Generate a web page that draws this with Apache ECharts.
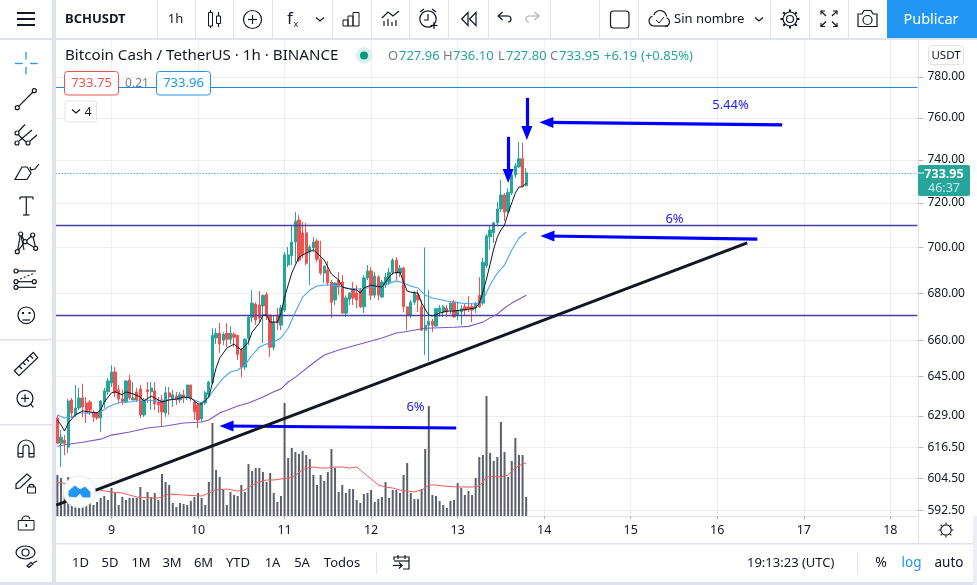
<!DOCTYPE html>
<html><head><meta charset="utf-8">
<style>html,body{margin:0;padding:0;background:#fff}#c{width:977px;height:585px}</style>
<script src="https://cdn.jsdelivr.net/npm/echarts@6/dist/echarts.min.js"></script>
</head><body><div id="c"></div>
<script>
// ---------- data ----------
const opens=[628.2,618.2,619.4,616.7,635.4,629.4,632.2,636.2,634.2,634.6,
630.2,630.2,628.2,634.6,638.7,642.3,646.8,639.5,635.8,634.6,
643.5,635.4,638.7,639.9,629.4,639.5,638.7,639.1,634.6,635.4,
630.2,638.3,635.8,637,635.4,637.5,636.6,641.5,634.6,633.4,
627.8,634.2,637.5,642.3,660.9,662.9,660,662.9,660.4,662.5,
662,655.9,648.8,660.8,669.7,675.3,674.9,674.5,679.4,670.6,
657,670.6,666.3,672.7,692.3,696.3,702.4,712.3,706.5,706.5,
698,699.8,702.9,694.8,688.7,690,684.8,677,685.7,684.8,
671.4,677.4,681.3,680,681.3,674.1,686.6,689.6,679.1,687,
678.3,683.5,684.8,689.1,694.4,688.7,690.9,674.1,670.6,676.1,
679.1,674.1,664.2,666.3,668,665.9,671.9,671.9,673.6,672.7,
676.1,670.6,671.9,674.1,674.1,674.1,673.7,679,675.7,691.8,
704.7,706.5,711,717.3,723.7,716.3,724.6,732.9,736.7,740.5,727.96];
const closes=[618.2,620.6,618.2,635,630.2,632.2,636.2,632.6,630.2,631.4,
628.6,628.2,635,639.1,643.1,646.8,638.3,635.8,634.6,643.1,
636.2,636.2,635.4,629.4,635.4,638.7,640.3,633.8,633.4,630.6,
638.3,636.6,637.5,635.4,637.5,636.2,641.5,636.2,630.6,627.4,
634.2,638.3,642.7,662,662.9,658.4,662.5,660.4,662.9,661.2,
654,648.8,660.4,669.7,675.7,668.5,669.4,679,670.6,657,
667.6,667.2,673.6,696.7,696.7,702.4,711.8,694.4,696.7,693,
700.2,702.4,694.8,688.7,691.8,684.4,676.1,684.4,682.6,671.4,
677.9,680,677.9,677,674.1,686.6,689.6,679.1,687.4,679.1,
684.8,687,689.1,694.4,688.7,690.9,674.1,670.6,676.1,680,
677,664.2,666.3,668,666.3,673.3,673.6,674.1,671.9,675.7,
669.8,672.7,673.3,672.7,673.3,672.7,675.7,674.1,693.5,705.1,
707.8,711,717.3,723.7,715.9,725,732.9,737.2,740.5,727.7,733.95];
const highs=[629.4,623.4,621.4,635.8,636.2,641.5,640.3,642,636.6,635.4,
631.4,630.6,635.4,640.3,644.3,649.6,648.8,641.5,639.5,643.5,
645.6,642.7,640.3,641.5,636.2,642.7,642.7,642.7,636.6,637.4,
640.7,640.7,639.5,638.7,638.7,639.5,641.5,641.5,635.4,634.2,
634.6,639.1,643.1,665,665,667.2,663.3,667.2,665.8,663.3,
662,656.7,660.8,670.6,681.3,676.1,680.9,679.4,680.4,670.6,
670.6,673.6,674.9,698,700.2,710,715.9,714.5,711.4,711,
701,704.6,703.8,702.9,691.8,694,685.7,684.8,689.1,687.8,
679.1,680.4,684.8,683.5,682.2,687.8,692.2,691.4,689.1,687.8,
685.7,688.7,690.9,695.3,695.7,692.2,691.4,674.1,677,680.9,
681.3,677,700,681.3,669,673.6,674.9,674.9,674.9,676.1,
677,676.1,674.9,675.3,678.7,675.7,676.1,687,695.3,706,
710,711.4,720.5,730.6,724.6,726.9,734.4,738.6,748.5,748,736.1];
const lows=[618.2,608.9,613.5,614.3,628.2,628.6,631.4,628.6,626.2,629.4,
626.6,627.4,622.6,632.2,637.5,640.7,636.6,634.2,633.4,634.2,
635.4,635.4,634.6,628.2,628.6,634.2,631.4,631.4,630.2,624.6,
628.6,629.4,632.6,633.4,634.2,634.2,635.4,635,627.4,624.2,
626.6,633.4,636.6,641.9,658.4,654.6,658,657.1,658.4,657.1,
651.7,644.7,647.6,657.9,667.6,666.4,667.6,658.8,668.5,653,
655.9,664.2,664.2,671.9,691.4,692.2,693,693.5,695.3,692.2,
683.5,698,693.5,687.8,684.4,683.1,669.4,674.9,679.1,671.4,
669.7,674.9,674.9,673.6,673.6,671.4,685.7,677,677.9,677,
677.9,682.2,683.5,687.8,685.7,687,671.9,664.2,669.4,674.9,
671.9,663.8,653.8,651.3,663.4,665.9,669.8,669.8,669.8,671,
669.4,668.5,666.4,670.2,671.9,667.6,671.4,673.7,674.9,690.9,
698.9,702,710,715.9,711.8,715.4,723.7,731.5,736.3,727.2,727.8];
const volumes=[41,38,26,39,29,26,26,11,18,13,11,14,18,20,16,28,23,11,19,16,
18,18,18,29,16,24,19,23,16,42,34,31,13,9,13,12,11,15,19,23,
18,11,34,93,46,39,26,11,24,21,20,31,24,52,45,48,48,44,34,43,
23,14,20,113,58,68,64,62,65,61,57,41,31,41,35,44,67,48,24,31,
23,27,27,16,13,22,23,26,14,17,19,34,18,26,26,23,41,53,23,17,
17,27,67,110,21,20,15,11,8,15,16,33,28,21,25,21,38,59,61,120,
63,55,59,94,64,39,55,78,61,61,19];
// moving averages: [hour index, value]
const maFast=[[0,627.4],[1,625.4],[2,623],[3,626.2],[5,629.4],[7,631],[9,630.6],[11,630.2],[12,631.4],[13,634.6],[15,638.3],[16,638.7],[18,637.5],[19,638.7],[21,637.9],[23,636.6],[24,635],[26,637],[28,635.4],[29,634.6],[31,635.4],[33,635.8],[35,636.6],[37,636.2],[39,633.8],[40,633.8],[42,636.6],[43,642.3],[44,648.4],[45,652.5],[47,656.7],[49,658.4],[50,657.1],[51,655.9],[53,659.2],[54,663.4],[56,667.2],[57,670.6],[58,670.6],[59,667.6],[61,667.6],[62,671.4],[63,678.3],[65,688.7],[66,692.2],[67,695.7],[69,697.5],[71,698.9],[72,697.5],[74,694.4],[76,688.3],[77,687],[78,685.7],[79,682.6],[81,681.8],[83,681.3],[84,680],[85,682.2],[87,683.5],[88,683.1],[90,682.6],[92,687],[93,688.7],[95,689.1],[96,684.8],[97,680.9],[98,680.4],[100,680],[101,675.7],[103,670.6],[104,670.2],[106,671.4],[108,672.3],[110,672.3],[112,672.7],[114,673.1],[116,673.6],[117,675.7],[118,680.4],[119,686.1],[120,692.6],[121,699.3],[122,704.6],[123,707.8],[124,710],[125,715.4],[126,720],[127,724.6],[128,727.4],[129,727.4],[130,729.2]];
const maMid=[[0,629.4],[2,628.2],[4,628.6],[6,630.2],[10,630.2],[12,630.6],[14,632.6],[16,633.8],[18,634.6],[20,634.6],[24,635.4],[28,635],[32,635.8],[36,636.6],[38,635.4],[40,634.2],[42,636.6],[44,640.7],[46,644.3],[48,646.8],[50,647.6],[52,649.6],[54,653.8],[56,657.1],[58,658.4],[60,659.2],[62,660.9],[64,665],[66,671.9],[68,678.3],[70,681.3],[72,683.1],[74,683.5],[76,683.5],[78,683.1],[80,682.2],[84,681.8],[86,682.2],[90,683.1],[94,685.3],[96,684.4],[98,683.1],[100,682.2],[102,679.1],[104,677.9],[108,676.6],[112,675.7],[116,675.3],[118,677],[120,683.5],[122,688.7],[124,692.2],[126,698.9],[128,704.2],[130,706.9]];
const maSlow=[[0,617],[3,617.8],[7,618.6],[12,619.8],[15,621.4],[20,622.6],[25,624.2],[30,625],[35,626.2],[40,626.6],[42,627.4],[45,630.2],[50,633],[53,634.2],[57,636.6],[60,638.7],[62,639.9],[64,642.7],[66,644.7],[71,650.5],[74,653.8],[78,655.9],[84,658.4],[90,660.9],[94,663],[96,663.4],[102,665],[110,665.4],[114,665.8],[116,666.7],[118,667.6],[120,669.4],[122,671],[124,673.6],[126,675.7],[128,677.4],[130,679.1]];
const volMA=[[0,34],[10,27],[15,24],[18,23],[22,19],[26,18],[28,18],[31,22],[35,21],[40,20],[42,23],[44,26],[47,27],[50,25],[52,26],[54,31],[56,34],[58,36],[60,36],[62,37],[64,38],[66,40],[67,44],[69,48],[71,49],[73,48],[75,48],[77,49],[79,49],[81,48],[83,49],[85,43],[87,37],[89,31],[91,29],[93,28],[95,26],[97,25],[99,24],[101,26],[103,31],[105,31],[107,30],[111,29],[115,29],[117,30],[118,34],[119,39],[121,40],[123,39],[125,41],[127,48],[129,52],[130,53]];
const priceTicks=[780,760,740,720,700,680,660,645,629,616.5,604.5,592.5];
const dayHours=[15,39,63,87,111,135,159,183,207,231];
const dayLabels=['9','10','11','12','13','14','15','16','17','18'];
const levels={order:775.1,upper:710,lower:670.3};
const lastPrice=733.95;
// hand-drawn annotations: [hour, price] pairs
const trendLine=[[-0.3,594.4],[191.3,702]];
const arrows=[
 [[201,756.6],[135.6,757.8]],
 [[194.1,703.7],[135.9,705.1]],
 [[110.6,624.2],[46.9,625]],
 [[130.2,769.7],[130.2,752.7]],
 [[125,750.9],[125,732.5]]
];
const hourCount=239, priceMin=590.3, priceMax=798.5, volumeMax=476;

// ---------- options ----------
const lg=Math.log, lgp=p=>[p[0],lg(p[1])];
const hours=Array.from({length:hourCount},(_,i)=>'h'+i);
const candleData=opens.map((o,i)=>[lg(o),lg(closes[i]),lg(lows[i]),lg(highs[i])]);
const UI='"Noto Sans",sans-serif', ink='#131722', edge='#e0e3eb', grid='#eceef2';
const z=100;
const L=(x1,y1,x2,y2,c=ink,w=1.2)=>({type:'line',z,silent:true,shape:{x1,y1,x2,y2},style:{stroke:c,lineWidth:w}});
const C=(cx,cy,r,c=ink,w=1.2,fill='none')=>({type:'circle',z,silent:true,shape:{cx,cy,r},style:{stroke:c,lineWidth:w,fill}});
const R=(x,y,width,height,fill='none',stroke='none',w=1,r=0)=>({type:'rect',z,silent:true,shape:{x,y,width,height,r},style:{fill,stroke,lineWidth:w}});
const T=(text,x,y,o={})=>({type:'text',z:z+1,silent:true,style:{text,x,y,fill:o.color||ink,font:(o.weight||'normal')+' '+(o.size||13)+'px '+UI,textAlign:o.align||'left',textVerticalAlign:'middle',verticalAlign:'middle'}});
const P=(points,c=ink,w=1.2)=>({type:'polyline',z,silent:true,shape:{points},style:{stroke:c,lineWidth:w,fill:'none'}});
const G=(points,fill='none',c=ink,w=1.2)=>({type:'polygon',z,silent:true,shape:{points},style:{stroke:c,lineWidth:w,fill}});
const A=(cx,cy,r,s,e,c=ink,w=1.2)=>({type:'arc',z,silent:true,shape:{cx,cy,r,startAngle:s,endAngle:e},style:{stroke:c,lineWidth:w,fill:'none'}});
const PI=Math.PI;
const sunTicks=(cx,cy,r1,r2,n,w)=>Array.from({length:n},(_,i)=>{const a=i*2*PI/n;return L(cx+r1*Math.cos(a),cy+r1*Math.sin(a),cx+r2*Math.cos(a),cy+r2*Math.sin(a),ink,w);});
const els=[
 // frame
 R(0,0,52,585,'#fff'),R(52,38,4,547,edge),R(0,38,977,2,edge),R(56,543,917,1.5,edge),R(0,582,977,3,edge),R(973,516,4,69,'#eceef3'),
 R(918,40,1,503,edge),
 // top bar separators
 ...[157,195,233,272,332,371,409,448,488,550,599,638,770,809,848].map(x=>R(x,0,1,38,edge)),
 R(52,0,4,38,edge),
 // hamburger
 L(17,13,35,13,ink,2),L(17,19,35,19,ink,2),L(17,25,35,25,ink,2),
 T('BCHUSDT',65,19,{size:13,weight:'bold'}),T('1h',175.5,19,{align:'center',size:13}),
 // candle icon
 L(210.5,10,210.5,28),R(208.5,12.5,4,13.5,'#fff',ink),L(218.5,12,218.5,27),R(216.5,16,4,7.5,'#fff',ink),
 C(252.5,19.5,9),L(248,19.5,257,19.5),L(252.5,15,252.5,24),
 T('f',290,19,{size:17,align:'center'}),T('x',296,24,{size:9,align:'center'}),P([[316,17.5],[320,21],[324,17.5]]),
 // bars icon
 R(343,20,5,6,'none',ink),R(348,16,5,10,'none',ink),R(353,12.5,6,13.5,'none',ink),
 // indicators icon
 P([[382,18],[388,12],[393,16],[399,11]]),L(384,21,384,26),L(388,19,388,26),L(392,22,392,26),L(396,20,396,26),
 // alarm
 C(428,19,8.2),P([[428,14],[428,20],[424,20]]),L(420,12,424,9),L(436,12,432,9),L(434,22,434,29),L(430.5,25.5,437.5,25.5),
 // replay
 G([[461.7,19],[468,12.5],[468,25.5]]),G([[469.5,19],[476,12.5],[476,25.5]]),
 // undo / redo
 P([[498,16],[508,16]]),P([[502.5,12],[498,16],[502.5,20]]),A(508,19,3,-PI/2,PI/2),P([[539,16],[529,16]],'#b2b5be'),P([[534.5,12],[539,16],[534.5,20]],'#b2b5be'),A(529,19,3,PI/2,-PI/2,'#b2b5be'),
 // square
 R(610.5,11,18.5,17,'none',ink,1.2,3),
 // cloud
 P([[654,26],[668,26]]),A(654,21,5,PI/2,-PI*0.6),A(660,17,6.5,-PI*0.9,-0.1),A(665,22,4.5,-PI*0.4,PI/2),P([[656,20],[659,23],[664,17]],ink,1),
 T('Sin nombre',674,19.5,{size:13}),P([[755,17.5],[759,21],[763,17.5]]),
 // gear
 C(790,19,3.5),C(790,19,7),...sunTicks(790,19,7,9.5,8,2),
 // fullscreen
 P([[821,14.5],[821,11],[825,11]]),L(821,11,826,16),P([[837,14.5],[837,11],[833,11]]),L(837,11,832,16),
 P([[821,23],[821,26.5],[825,26.5]]),L(821,26.5,826,21.5),P([[837,23],[837,26.5],[833,26.5]]),L(837,26.5,832,21.5),
 // camera
 G([[858,14],[862,14],[864,10.5],[871,10.5],[873,14],[877,14],[877,26.5],[858,26.5]]),C(867.5,20,4.5),
 R(887,0,90,38,'#2196f3'),T('Publicar',931,19.5,{size:14.5,color:'#fff',align:'center'}),
 // left tools
 L(15,63.5,22.7,63.5,'#2196f3',1.3),L(30,63.5,37.7,63.5,'#2196f3',1.3),L(26,52,26,59.5,'#2196f3',1.3),L(26,67,26,74.5,'#2196f3',1.3),
 L(18.7,106.3,33,92),C(17.3,107.7,2),C(34.3,90.7,2),
 C(17,133,2),C(17,143,2),C(28,143,2),L(18.5,131.5,25,124.5),L(19,141,32,130),L(29.5,141.5,37,135),L(18.5,135,26,142),
 G([[15,179.5],[27,179.5],[31,173],[27,167],[22,167]]),P([[30,167],[31,170],[35,169],[39,164]]),
 L(26.3,197,26.3,215),L(20,197,33,197),L(20,197,20,199.5),L(33,197,33,199.5),L(23,215,29.5,215),
 P([[17.3,251.7],[20.7,234],[25,241.7],[32.7,235],[35.7,248.3],[25,241.7],[17.3,251.7]]),L(20.7,234,24,250),C(17.3,251.7,2,ink,1.2,'#fff'),C(20.7,234,2,ink,1.2,'#fff'),C(25,241.7,2,ink,1.2,'#fff'),C(32.7,235,2,ink,1.2,'#fff'),C(35.7,248.3,2,ink,1.2,'#fff'),
 L(18,271,36,271),L(18,281.7,32,281.7),L(18,287.3,36,287.3),C(16,271,2),C(16,281.7,2),C(34.3,281.7,2),C(16,287.3,2),{...L(20,279,35,273),style:{stroke:ink,lineWidth:1.1,lineDash:[2,2]}},
 C(26.3,315.3,8.3),L(22.5,320,30,320),R(22,312,2,2,ink),R(28.5,312,2,2,ink),
 R(0,339,52,1.5,edge),R(0,424,52,1.5,edge),
 G([[14.3,370.7],[33.3,352.3],[37.7,357.7],[19,375.7]]),L(19,366,22,369),L(23,362.5,25.5,365),L(26.5,359,29,361.5),L(30,355.5,33,358.5),
 C(25,398.3,8),L(30.7,404,33.3,407.3),L(21,398.3,29,398.3),L(25,394.3,25,402.3),
 A(26,448,8,PI,0),A(26,448,3,PI,0),L(18,448,18,457),L(34,448,34,457),L(23,448,23,457),L(29,448,29,457),L(18,457,23,457),L(29,457,34,457),L(18,453.5,23,453.5),L(29,453.5,34,453.5),
 G([[16,484],[27,474],[31,477.5],[20,488],[16,488.5]]),R(27.5,487,8,6,'#fff',ink),A(31.5,487,2.6,PI,0),
 R(18.3,520.5,15.7,9.5,'none',ink),A(26,520,4,PI,-0.2),R(25.5,524,1.6,3,ink),
 {type:'ellipse',z,silent:true,shape:{cx:25.5,cy:552.5,rx:9.5,ry:6.5},style:{stroke:ink,lineWidth:1.2,fill:'none'}},C(25.5,552.5,3.5),G([[27,566],[31,562.5],[33,564],[29,567.5]]),L(33,563,37,561),
 // legend
 T('Bitcoin Cash / TetherUS · 1h · BINANCE',65,55.5,{size:15.15}),
 C(364,55.5,8,'none',0,'#d9f0ec'),C(364,55.5,4,'none',0,'#089981'),
 T('O',388,56,{color:'#787b86'}),T('727.96',399,56,{color:'#26a69a'}),T('H',443,56,{color:'#787b86'}),T('736.10',453,56,{color:'#26a69a'}),
 T('L',498,56,{color:'#787b86'}),T('727.80',506,56,{color:'#26a69a'}),T('C',550,56,{color:'#787b86'}),T('733.95',559,56,{color:'#26a69a'}),T('+6.19',604,56,{color:'#26a69a'}),T('(+0.85%)',641,56,{color:'#26a69a'}),
 R(64.5,71.5,54,23.5,'#fff','#ef5350',1,3),T('733.75',91.5,83.5,{color:'#ef5350',align:'center'}),T('0.21',137,83.5,{color:'#787b86',align:'center',size:12}),
 R(156.5,71.5,54,23.5,'#fff','#2196f3',1,3),T('733.96',183.5,83.5,{color:'#2196f3',align:'center'}),
 R(65,101,31.5,21,'#fff',edge,1,2),P([[72,109.5],[76,113],[80,109.5]]),T('4',88,112,{align:'center',size:12.5}),
 // scale decorations
 R(928.5,45.5,35,19,'#fff',edge,1,3),T('USDT',946,55.5,{align:'center',size:11.5}),
 R(918,165,52,31,'#26a69a','none',1,2),T('733.95',944,174,{align:'center',color:'#fff',size:12.5,weight:'bold'}),T('46:37',944,188,{align:'center',color:'#c8e8e4',size:12.5}),
 L(918,173,924,173,'#fff',1),
 C(946,530,5.2),...sunTicks(946,530,6,7.5,8,1.1),
 // annotations text
 T('5.44%',730.5,105.5,{color:'#1a1aff',align:'center'}),T('6%',674.5,219.5,{color:'#1a1aff',align:'center'}),T('6%',415.5,407.5,{color:'#1a1aff',align:'center'}),
 // logo
 C(79.3,491.7,16,'#e8eaf0',1,'#fff'),
 G([[69,496],[69,491],[75,486],[80,490],[85,487],[90,492],[90,497],[83,497],[80,493],[76,497]],'#2196f3','#2196f3',1),
 // bottom bar
 ...[['1D',80.5],['5D',110],['1M',141],['3M',172],['6M',203.5],['YTD',238],['1A',272.5],['5A',302],['Todos',342]].map(a=>T(a[0],a[1],563,{align:'center',size:13})),
 R(376,552,1,22,edge),
 P([[394,560],[394,557],[409,557],[409,569],[403,569]]),L(394,561,409,561),L(398,555,398,559),L(405,555,405,559),L(393,565.5,402,565.5),P([[399,562.5],[402,565.5],[399,568.5]]),
 T('19:13:23 (UTC)',747,563.5,{size:13}),R(857,552,1,22,edge),T('%',881,563,{align:'center',size:14}),T('log',911.5,563,{align:'center',color:'#2196f3',size:13.5}),T('auto',949,563,{align:'center',size:13.5})
];
const hLine=(p,c,w,t='solid')=>({yAxis:lg(p),lineStyle:{color:c,width:w,type:t}});
const option={
 animation:false,
 textStyle:{fontFamily:UI},
 grid:{left:55.6,right:59.6,top:40,bottom:69,containLabel:false},
 xAxis:[
  {type:'category',data:hours,show:false,gridIndex:0},
  {type:'value',gridIndex:0,position:'bottom',min:-0.5,max:hourCount-0.5,
   axisLine:{show:true,onZero:false,lineStyle:{color:edge,width:1.2}},
   axisTick:{show:true,length:3,customValues:dayHours,lineStyle:{color:'#b2b5be'}},
   axisLabel:{show:true,customValues:dayHours,margin:8,color:ink,fontSize:12.5,fontFamily:UI,
     formatter:v=>dayLabels[dayHours.indexOf(Math.round(v))]??''},
   splitLine:{show:true,lineStyle:{color:grid,width:1}}}
 ],
 yAxis:[
  {type:'value',position:'right',min:lg(priceMin),max:lg(priceMax),
   axisLine:{show:false,onZero:false},
   axisTick:{show:true,length:6,customValues:priceTicks.map(lg),lineStyle:{color:'#b2b5be'}},
   axisLabel:{show:true,customValues:priceTicks.map(lg),margin:10,color:ink,fontSize:12,fontFamily:UI,padding:[2,0,0,0],
     formatter:v=>Math.exp(v).toFixed(2)},
   splitLine:{show:true,lineStyle:{color:grid,width:1}}},
  {type:'value',min:0,max:volumeMax,show:false,axisLine:{onZero:false},splitLine:{show:false}}
 ],
 series:[
  {type:'bar',name:'Volume',data:volumes,xAxisIndex:0,yAxisIndex:1,barWidth:2,itemStyle:{color:'#5d606b'},z:2},
  {type:'line',name:'Volume MA',data:volMA,xAxisIndex:1,yAxisIndex:1,symbol:'none',lineStyle:{color:'#f05a5a',width:1},z:3},
  {type:'candlestick',name:'BCHUSDT',data:candleData,xAxisIndex:0,yAxisIndex:0,barWidth:2.8,z:4,
   itemStyle:{color:'#26a69a',color0:'#ef5350',borderColor:'#26a69a',borderColor0:'#ef5350',borderWidth:1},
   markLine:{silent:true,symbol:'none',animation:false,label:{show:false},precision:8,
    data:[hLine(levels.upper,'#4a3f9f',1.4),hLine(levels.lower,'#4a3f9f',1.4)]}},
  {type:'line',name:'Order',data:[],xAxisIndex:1,yAxisIndex:0,symbol:'none',z:4,
   markLine:{silent:true,symbol:'none',animation:false,label:{show:false},precision:8,
    data:[hLine(levels.order,'#1e88e5',1.1),hLine(lastPrice,'#159a8c',1,[1,2])]}},
  {type:'line',name:'MA mid',data:maMid.map(lgp),xAxisIndex:1,yAxisIndex:0,symbol:'none',lineStyle:{color:'#4ba3f0',width:1.1},z:5},
  {type:'line',name:'MA slow',data:maSlow.map(lgp),xAxisIndex:1,yAxisIndex:0,symbol:'none',lineStyle:{color:'#7e57c2',width:1.1},z:5},
  {type:'line',name:'MA fast',data:maFast.map(lgp),xAxisIndex:1,yAxisIndex:0,symbol:'none',lineStyle:{color:'#131722',width:1},z:6},
  {type:'line',name:'Trend',data:trendLine.map(lgp),xAxisIndex:1,yAxisIndex:0,symbol:'none',lineStyle:{color:'#131722',width:3},z:7,
   markLine:{silent:true,animation:false,label:{show:false},precision:8,symbol:['none','triangle'],
    lineStyle:{color:'#0000ff',width:3.2,type:'solid'},
    data:arrows.map(a=>[{coord:lgp(a[0]),symbol:'none'},{coord:lgp(a[1]),symbol:'triangle',symbolSize:[11,14]}])}}
 ],
 graphic:{elements:els}
};
echarts.init(document.getElementById('c'),null,{renderer:'canvas'}).setOption(option);
</script></body></html>
